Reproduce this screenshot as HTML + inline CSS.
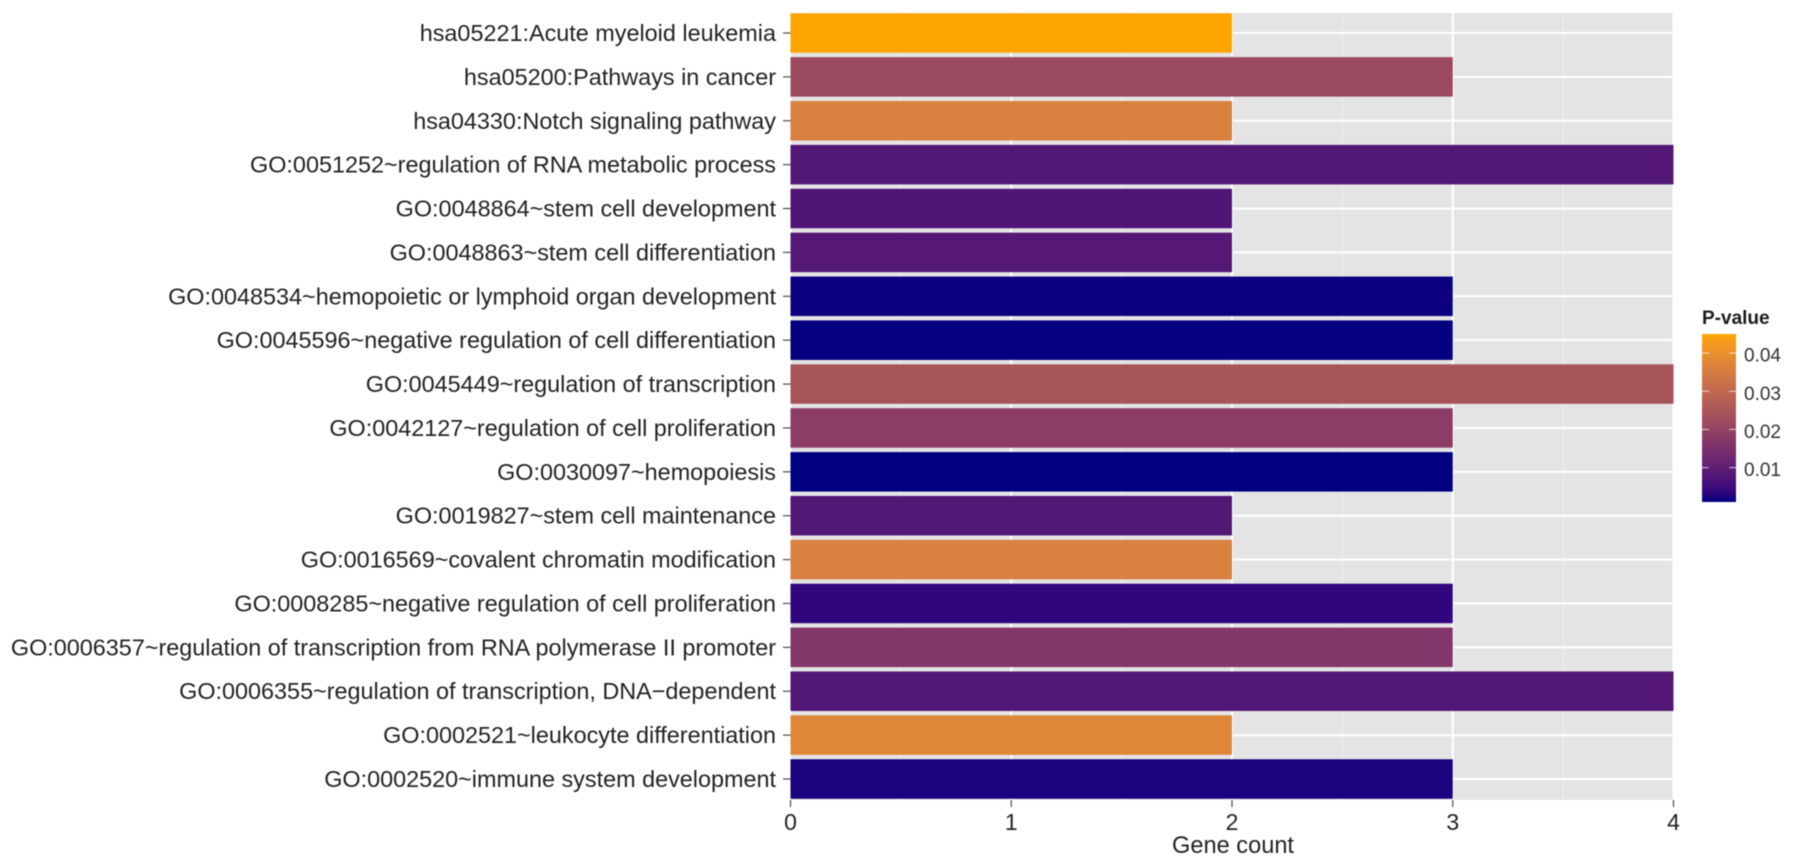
<!DOCTYPE html>
<html lang="en">
<head>
<meta charset="utf-8">
<title>Gene count by enriched term</title>
<style>
html,body{margin:0;padding:0;background:#fff;}
body{width:1795px;height:867px;overflow:hidden;}
svg{display:block;filter:blur(0.55px);font-family:"Liberation Sans",Arial,sans-serif;}
</style>
</head>
<body>
<svg id="chart" xmlns="http://www.w3.org/2000/svg" width="1795" height="867" viewBox="0 0 1795 867">
  <rect x="0" y="0" width="1795" height="867" fill="#ffffff"/>
  <defs>
    <linearGradient id="pGradient" x1="0" y1="1" x2="0" y2="0"></linearGradient>
  </defs>
  <rect id="panel" fill="#e4e4e4"/>
  <g id="grid"></g>
  <g id="bars"></g>
  <g id="yAxis"></g>
  <g id="xAxis"></g>
  <text x="1233" y="853" text-anchor="middle" font-size="23.6" fill="#222222">Gene count</text>
  <g id="legend">
    <text x="1702" y="324" font-size="19" font-weight="bold" fill="#1c1c1c">P-value</text>
    <rect id="colorbar" fill="url(#pGradient)"/>
  </g>
</svg>
<script>
const categories = [
  "hsa05221:Acute myeloid leukemia",
  "hsa05200:Pathways in cancer",
  "hsa04330:Notch signaling pathway",
  "GO:0051252~regulation of RNA metabolic process",
  "GO:0048864~stem cell development",
  "GO:0048863~stem cell differentiation",
  "GO:0048534~hemopoietic or lymphoid organ development",
  "GO:0045596~negative regulation of cell differentiation",
  "GO:0045449~regulation of transcription",
  "GO:0042127~regulation of cell proliferation",
  "GO:0030097~hemopoiesis",
  "GO:0019827~stem cell maintenance",
  "GO:0016569~covalent chromatin modification",
  "GO:0008285~negative regulation of cell proliferation",
  "GO:0006357~regulation of transcription from RNA polymerase II promoter",
  "GO:0006355~regulation of transcription, DNA\u2212dependent",
  "GO:0002521~leukocyte differentiation",
  "GO:0002520~immune system development"
];
const geneCounts = [2, 3, 2, 4, 2, 2, 3, 3, 4, 3, 3, 2, 2, 3, 3, 4, 2, 3];
const pValues = [0.045, 0.022, 0.036, 0.008, 0.0075, 0.0085, 0.0014, 0.0011, 0.0245, 0.0185, 0.001, 0.008, 0.036, 0.0035, 0.0165, 0.008, 0.0375, 0.002];
const xTicks = [0, 1, 2, 3, 4];
const xMinorTicks = [0.5, 1.5, 2.5, 3.5];
const legendTicks = [0.01, 0.02, 0.03, 0.04];
const pLow = 0.001;
const pHigh = 0.045;

const NS = "http://www.w3.org/2000/svg";
const panelBox = {left: 790.5, right: 1673.5, top: 13, bottom: 800};
const rowAxis = {first: 33, last: 779};
const barBand = 0.9;

function xScale(v) {
  return panelBox.left + v / xTicks[xTicks.length - 1] * (panelBox.right - panelBox.left);
}
function bandStep() {
  return (rowAxis.last - rowAxis.first) / (categories.length - 1);
}
function yScale(i) {
  return rowAxis.first + i * bandStep();
}
const barBox = {left: 1702, right: 1736, top: 334, bottom: 502};
function legendY(p) {
  return barBox.bottom - (p - pLow) / (pHigh - pLow) * (barBox.bottom - barBox.top);
}

function rgb2lab(c) {
  const l = c.map(function (v) { v /= 255; return v > 0.04045 ? Math.pow((v + 0.055) / 1.055, 2.4) : v / 12.92; });
  const x = (0.4124 * l[0] + 0.3576 * l[1] + 0.1805 * l[2]) / 0.95047;
  const y = 0.2126 * l[0] + 0.7152 * l[1] + 0.0722 * l[2];
  const z = (0.0193 * l[0] + 0.1192 * l[1] + 0.9505 * l[2]) / 1.08883;
  const f = function (t) { return t > 0.008856 ? Math.cbrt(t) : 7.787 * t + 16 / 116; };
  return [116 * f(y) - 16, 500 * (f(x) - f(y)), 200 * (f(y) - f(z))];
}
function lab2rgb(c) {
  const fy = (c[0] + 16) / 116, fx = c[1] / 500 + fy, fz = fy - c[2] / 200;
  const g = function (t) { return t > 0.206893 ? t * t * t : (t - 16 / 116) / 7.787; };
  const x = g(fx) * 0.95047, y = g(fy), z = g(fz) * 1.08883;
  const l = [3.2406 * x - 1.5372 * y - 0.4986 * z, -0.9689 * x + 1.8758 * y + 0.0415 * z, 0.0557 * x - 0.204 * y + 1.057 * z];
  return l.map(function (v) {
    v = Math.max(0, Math.min(1, v));
    v = v > 0.0031308 ? 1.055 * Math.pow(v, 1 / 2.4) - 0.055 : 12.92 * v;
    return Math.round(v * 255);
  });
}
const labLow = rgb2lab([0, 0, 128]);
const labHigh = rgb2lab([255, 165, 0]);
function colorScale(p) {
  const t = Math.max(0, Math.min(1, (p - pLow) / (pHigh - pLow)));
  const m = labLow.map(function (v, k) { return v + t * (labHigh[k] - v); });
  return "rgb(" + lab2rgb(m).join(",") + ")";
}

function make(tag, attrs, parent) {
  const el = document.createElementNS(NS, tag);
  Object.keys(attrs).forEach(function (k) { el.setAttribute(k, attrs[k]); });
  parent.appendChild(el);
  return el;
}

const panel = document.getElementById("panel");
panel.setAttribute("x", panelBox.left);
panel.setAttribute("y", panelBox.top);
panel.setAttribute("width", panelBox.right - panelBox.left);
panel.setAttribute("height", panelBox.bottom - panelBox.top);

const grid = document.getElementById("grid");
xMinorTicks.forEach(function (v) {
  const el = make("line", {x1: xScale(v), x2: xScale(v), y1: panelBox.top, y2: panelBox.bottom, stroke: "#f0f0f0", "stroke-width": 1}, grid);
  
  
});
xTicks.forEach(function (v) {
  const el = make("line", {x1: xScale(v), x2: xScale(v), y1: panelBox.top, y2: panelBox.bottom, stroke: "#ffffff", "stroke-width": 2}, grid);
  
  
});
categories.forEach(function (c, i) {
  const el = make("line", {x1: panelBox.left, x2: panelBox.right, y1: yScale(i), y2: yScale(i), stroke: "#ffffff", "stroke-width": 2}, grid);
  
  
});

const bars = document.getElementById("bars");
const yAxis = document.getElementById("yAxis");
categories.forEach(function (c, i) {
  const h = bandStep() * barBand;
  const bar = make("rect", {x: xScale(0), y: yScale(i) - h / 2, width: xScale(geneCounts[i]) - xScale(0), height: h, fill: colorScale(pValues[i])}, bars);
  
  

  const tick = make("line", {x1: xScale(0) - 7.5, x2: xScale(0), y1: yScale(i), y2: yScale(i), stroke: "#4d4d4d", "stroke-width": 1.2}, yAxis);
  
  

  const label = make("text", {x: xScale(0) - 14.5, y: yScale(i) + 8, "text-anchor": "end", "font-size": 23.4, fill: "#222222"}, yAxis);
  label.textContent = c;
  
  
});

const xAxis = document.getElementById("xAxis");
xTicks.forEach(function (v) {
  const tick = make("line", {x1: xScale(v), x2: xScale(v), y1: panelBox.bottom, y2: panelBox.bottom + 7, stroke: "#4d4d4d", "stroke-width": 1.2}, xAxis);
  
  

  const label = make("text", {x: xScale(v), y: 830, "text-anchor": "middle", "font-size": 23, fill: "#222222"}, xAxis);
  label.textContent = String(v);
  
  
});

const gradient = document.getElementById("pGradient");
for (let s = 0; s <= 20; s++) {
  make("stop", {offset: s / 20, "stop-color": colorScale(pLow + s / 20 * (pHigh - pLow))}, gradient);
}
const colorbar = document.getElementById("colorbar");
colorbar.setAttribute("x", barBox.left);
colorbar.setAttribute("y", barBox.top);
colorbar.setAttribute("width", barBox.right - barBox.left);
colorbar.setAttribute("height", barBox.bottom - barBox.top);

const legend = document.getElementById("legend");
legendTicks.forEach(function (p) {
  const w = (barBox.right - barBox.left) / 5;
  const tickLeft = make("line", {x1: barBox.left, x2: barBox.left + w, y1: legendY(p), y2: legendY(p), stroke: "#ffffff", "stroke-opacity": 0.75, "stroke-width": 1}, legend);
  
  

  const tickRight = make("line", {x1: barBox.right - w, x2: barBox.right, y1: legendY(p), y2: legendY(p), stroke: "#ffffff", "stroke-opacity": 0.75, "stroke-width": 1}, legend);
  
  

  const label = make("text", {x: 1744, y: legendY(p) + 8.5, "font-size": 19, fill: "#333333"}, legend);
  label.textContent = p.toFixed(2);
  
  
});
</script>
</body>
</html>
